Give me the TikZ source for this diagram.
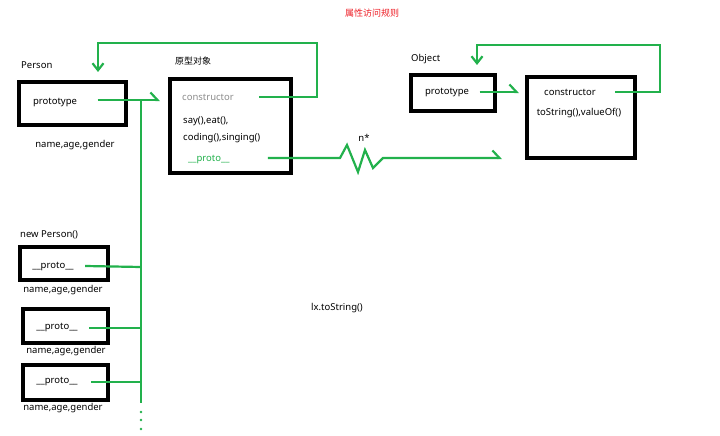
\documentclass[tikz,border=0pt]{standalone}
\usepackage{fontspec}
\setmainfont{Noto Sans}
\newfontfamily\cjk{Noto Sans CJK SC}
\usepackage{tikz}
\usetikzlibrary{arrows.meta,calc,positioning}
\definecolor{linkgreen}{HTML}{22B14C}
\definecolor{titlered}{HTML}{ED1C24}
\definecolor{ctorgray}{HTML}{8C8C8C}

\begin{document}
\begin{tikzpicture}[
  x=1pt, y=-1pt,
  font=\fontsize{9.5}{11}\selectfont,
  objbox/.style={draw=black, line width=3.6pt, minimum width=#1},
  txt/.style={inner sep=0pt, anchor=west},
  link/.style={draw=linkgreen, line width=2.2pt},
  tohead/.style={link, -{Straight Barb[harpoon, length=7pt, width=15pt, line width=2.2pt]}},
  todown/.style={link, -{Straight Barb[length=7pt, width=11pt, line width=2.2pt]}},
  dot/.style={circle, fill=linkgreen, inner sep=0pt, minimum size=2.6pt}
]
  \useasboundingbox (0,0) rectangle (720,436);

  \node[text=titlered, font=\cjk\fontsize{9}{11}\selectfont] (title) at (372,13) {属性访问规则};

  % Person
  \node[txt] (personlbl) at (21,65) {Person};
  \node[objbox=107pt, minimum height=43pt] (personbox) at (72.5,103.5) {};
  \node (pproto) at (55,103) {prototype};
  \node (pnames) at (75,145) {name,age,gender};

  % prototype object
  \node[font=\cjk\fontsize{9}{11}\selectfont] (protolbl) at (193,61) {原型对象};
  \node[objbox=121pt, minimum height=94pt] (protobox) at (230.5,126) {};
  \node[txt, text=ctorgray] (pctor) at (182,97) {constructor};
  \node[txt] (pmeth1) at (183,121) {say(),eat(),};
  \node[txt] (pmeth2) at (183,138) {coding(),singing()};
  \node[txt, text=linkgreen] (pdunder) at (188,160) {\_\_proto\_\_};

  % Object
  \node[txt] (objlbl) at (411,59) {Object};
  \node[objbox=84pt, minimum height=36pt] (objectbox) at (453,93) {};
  \node (oproto) at (447,93) {prototype};
  \node[objbox=108pt, minimum height=81pt] (oprotobox) at (581,117.5) {};
  \node (octor) at (570,92) {constructor};
  \node (ometh) at (579,113) {toString(),valueOf()};

  \node (nstar) at (364,138) {n*};
  \node (lxcall) at (337,308) {lx.toString()};

  % instances
  \node[txt] (newlbl) at (20,235) {new Person()};
  \node[objbox=88pt, minimum height=33pt] (inst1) at (64,263.5) {};
  \node[objbox=85pt, minimum height=34pt] (inst2) at (65.5,326) {};
  \node[objbox=85pt, minimum height=35pt] (inst3) at (65.5,382.5) {};
  \node (iproto1) at (53,267) {\_\_proto\_\_};
  \node (iproto2) at (57,328) {\_\_proto\_\_};
  \node (iproto3) at (57,382) {\_\_proto\_\_};
  \node (inames1) at (63,290) {name,age,gender};
  \node (inames2) at (66,351) {name,age,gender};
  \node (inames3) at (63,408) {name,age,gender};

  % connectors
  \coordinate (bustop) at (141,100);
  \coordinate (busend) at (141,403);
  \coordinate (ptip) at (160,100);
  \draw[tohead] ($(pproto.east)+(17,-3)$) -- (ptip);
  \draw[link] (bustop) -- (busend);
  \draw[link] ($(iproto1.east)+(8,-1)$) -- (iproto1 -| bustop);
  \draw[link] ($(iproto2.east)+(8,0)$) -- (iproto2 -| bustop);
  \draw[link] ($(iproto3.east)+(10,0)$) -- (iproto3 -| bustop);
  \foreach \y in {412,420,429}
    \node[dot] at (141,\y) {};

  \draw[todown] ($(pctor.east)+(25,0)$) -- (317,97) |- (98,43) -- (98,72);
  \draw[todown] ($(octor.east)+(16,0)$) -- (660,92) |- (477,45) -- (477,65);
  \draw[tohead] ($(oproto.east)+(7,-1)$) -- (519,92);

  \draw[tohead] ($(pdunder.east)+(38,-2)$) -- (340,158) -- (347,145) -- (358,172)
    -- (365,150) -- (373,168) -- (383,158) -- (502,158);
\end{tikzpicture}
\end{document}
